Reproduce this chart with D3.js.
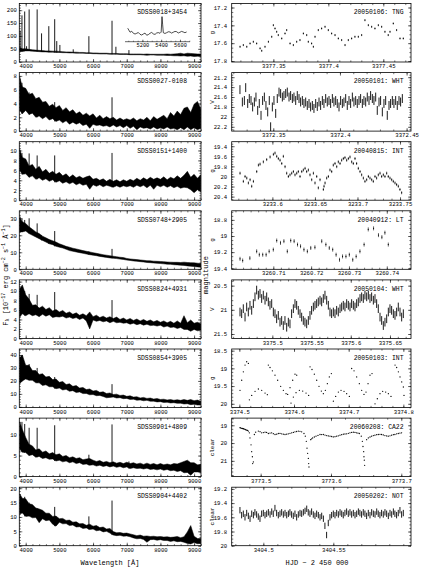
<!DOCTYPE html>
<html><head><meta charset="utf-8">
<script src="https://cdn.jsdelivr.net/npm/d3@7"></script>
<style>body{margin:0;background:#fff;}</style>
</head><body>
<svg id="c" width="421" height="569" xmlns="http://www.w3.org/2000/svg"></svg>
<script>
// ---------------- DATA ----------------
const wavelength = [3825,3900,4000,4100,4200,4300,4400,4500,4600,4700,4800,4900,5000,5100,5200,5300,5400,5500,5600,5700,5800,5900,6000,6100,6200,6300,6400,6500,6600,6700,6800,6900,7000,7100,7200,7300,7400,7500,7600,7700,7800,7900,8000,8100,8200,8300,8400,8500,8600,8700,8800,8900,9000,9100,9200];
const spectrumNames = ["SDSS0018+3454","SDSS0027-0108","SDSS0151+1400","SDSS0748+2905","SDSS0824+4931","SDSS0854+3905","SDSS0901+4809","SDSS0904+4402"];

const fluxLow1 = [40,40,42,42,41,40,39,38,38,37,37,36,36,35,35,34,34,33,33,33,32,32,31,31,30,30,30,29,29,29,28,28,28,27,27,27,27,26,25,26,26,25,25,25,24,24,23,23,22,23,21,22,20,21,20];
const fluxHigh1 = [55,50,50,48,46,45,44,43,42,42,41,41,40,39,38,38,37,37,36,36,35,35,34,34,33,33,33,32,32,32,31,31,31,30,30,30,30,29,30,29,29,29,29,29,30,29,30,31,33,30,33,32,31,30,30];
const lines1 = [[3835,120],[3889,180],[3970,195],[4026,60],[4102,203],[4340,203],[4471,110],[4686,138],[4861,165],[4922,80],[5015,65],[5411,48],[5876,99],[6563,159],[6678,58],[7065,45]];

const fluxLow2 = [3.0,2.5,3.0,2.4,2.6,2.0,2.2,1.8,2.1,1.6,1.8,1.4,1.6,1.2,1.5,1.0,1.3,1.0,1.2,0.8,1.0,0.4,1.0,0.8,0.9,0.7,0.8,0.6,0.9,0.6,0.8,0.5,0.8,0.4,0.7,0.2,0.6,0.4,0.5,0.3,0.6,0.3,0.5,0.3,0.6,0.3,0.4,0.2,0.5,0.2,0.6,0.2,0.5,0.2,0.4];
const fluxHigh2 = [7.8,6.4,6.2,5.3,5.5,4.7,4.9,4.2,4.3,3.6,3.9,3.4,3.7,3.0,3.4,2.8,3.1,2.5,2.8,2.3,2.6,2.2,2.5,1.9,2.3,1.8,2.1,1.8,2.0,1.6,1.9,1.6,1.8,1.6,1.9,1.5,1.8,1.6,2.0,1.5,2.1,1.7,2.0,2.3,1.8,2.7,2.2,2.9,2.4,3.3,3.5,2.7,3.9,4.3,3.2];
const lines2 = [[3889,7.0],[4102,5.6],[4340,4.8],[4861,4.2],[6563,4.9]];

const fluxLow3 = [6.0,5.2,5.3,4.6,4.9,4.2,4.5,4.0,4.3,3.8,4.1,3.6,3.9,3.4,3.7,3.3,3.6,3.1,3.4,3.0,3.2,2.2,3.1,2.8,3.1,2.7,3.0,2.8,2.6,2.9,2.6,2.9,2.7,2.9,2.6,3.0,2.7,3.0,2.5,3.0,2.2,3.0,2.7,3.0,2.6,2.9,2.5,2.8,2.4,2.6,2.5,2.1,1.5,2.1,1.7];
const fluxHigh3 = [10.2,8.6,8.3,6.9,7.2,6.2,6.8,5.7,6.2,5.4,5.8,5.2,5.6,4.9,5.3,4.6,5.1,4.5,4.8,4.4,4.7,4.9,4.2,4.4,4.0,4.3,3.8,4.2,3.8,4.1,3.7,4.1,3.8,4.2,3.9,4.4,4.0,4.5,4.1,4.6,4.2,4.5,4.2,4.7,4.1,4.6,4.3,4.9,4.4,5.0,5.8,4.6,5.2,4.4,5.1];
const lines3 = [[3889,9.5],[4102,9.4],[4340,9.0],[4861,9.0],[6563,9.5]];

const fluxLow4 = [22,22,22.5,21,20,19,18,17,16,15,14.5,13.5,13,12.5,11.8,11,10.6,10.2,9.8,9.4,9,8.6,8.3,8,7.6,7.3,7,6.7,6.5,6.3,6,5.8,5.4,5.2,4.9,4.7,4.5,4.3,4.0,3.9,3.7,3.5,3.4,3.2,3.0,2.9,2.7,2.6,2.4,2.3,2.0,1.8,1.6,1.4,1.2];
const fluxHigh4 = [30,28,27,25,23.5,22,21,19.5,18.5,17.5,16.8,16,15,14.3,13.5,13,12.4,12,11.5,11,10.6,10.2,9.8,9.4,9,8.6,8.3,8,7.7,7.4,7.1,6.9,6.4,6.1,5.9,5.7,5.5,5.3,5.1,5.0,4.8,4.7,4.6,4.5,4.3,4.2,4.1,4.1,4.0,4.2,4.0,3.9,3.8,3.6,3.4];
const lines4 = [[3835,31],[3889,30],[3970,29],[4102,30],[4340,27],[4471,20],[4686,17.5],[4861,22.5],[5876,10.5],[6563,12]];

const fluxLow5 = [4.5,5.2,4.8,5.2,4.8,5.0,4.6,5.1,4.7,5.0,4.4,4.6,4.5,4.7,4.3,4.5,4.2,4.4,4.0,4.3,3.7,2.0,3.9,3.6,3.8,3.5,3.7,3.3,3.6,3.3,3.4,3.2,3.3,3.0,3.2,2.9,3.1,2.8,3.0,2.7,2.8,2.6,2.8,2.4,2.6,2.3,2.4,2.1,2.3,1.9,1.9,1.5,1.9,1.6,1.7];
const fluxHigh5 = [10.5,11.3,9.2,8.3,7.0,7.1,6.4,6.8,6.1,6.5,5.8,6.1,5.6,5.9,5.3,5.6,5.1,5.4,4.9,5.2,4.8,5.6,4.6,4.9,4.4,4.7,4.3,4.6,4.2,4.5,4.0,4.3,3.9,4.2,3.8,4.1,3.7,4.0,3.6,3.9,3.5,3.8,3.4,3.7,3.3,3.6,3.2,3.7,3.2,4.8,3.3,3.9,3.2,3.4,3.1];
const lines5 = [[3970,10],[4102,9.4],[4340,9.2],[4861,9.8],[6563,8.1]];

const fluxLow6 = [18,20,21.5,20.5,20.5,18.5,18.5,16.5,17,15.5,15.5,14,14.5,13,13.5,12,12.5,11,11.5,10.2,10.3,9.3,9.5,8.6,8.8,8,7.0,7.3,7.6,6.8,7.1,6.3,6.5,5.7,5.9,5.1,5.3,4.7,5.0,4.3,4.4,3.8,4.0,3.4,3.5,3.0,3.2,2.7,2.8,2.2,2.4,1.7,2.0,1.4,1.5];
const fluxHigh6 = [38,40,32,32,28,28,25,25.5,23,23.5,21,21.5,19,19.5,17.2,17.8,15.8,16.4,14.5,15,13.3,13.8,12.2,12.7,11.2,11.6,10.3,10.7,9.5,9.8,8.8,9.1,8.1,8.5,7.5,7.8,6.9,7.3,6.5,6.8,6.0,6.4,5.7,5.9,5.3,5.6,5.1,5.5,5.0,5.6,5.0,5.6,4.8,5.2,4.3];
const lines6 = [[3889,40],[4102,33],[4340,30],[4861,23],[6563,17.5]];

const fluxLow7 = [6.5,5.8,5.7,5.0,5.2,4.6,4.8,4.3,4.5,4.1,4.2,3.7,3.9,3.5,3.7,3.3,3.5,3.1,3.3,2.9,3.0,2.7,2.8,2.5,2.7,2.4,2.6,2.3,2.5,2.2,2.4,2.1,2.3,1.9,2.1,1.9,2.0,1.8,2.0,1.7,1.8,1.6,1.8,1.5,1.7,1.4,1.5,1.2,1.4,0.9,1.0,0.3,1.1,1.1,1.0];
const fluxHigh7 = [13,11.2,9.3,7.7,7.3,6.3,6.6,5.8,6.1,5.4,5.7,5.2,5.4,4.8,5.0,4.5,4.7,4.3,4.5,4.0,4.2,4.3,3.9,3.6,3.8,3.4,3.6,3.3,3.5,3.2,3.4,3.1,3.4,3.1,3.3,3.0,3.2,2.9,3.2,2.9,3.1,2.8,3.1,2.8,3.0,2.8,3.1,3.0,3.3,3.6,3.9,3.3,3.3,2.8,2.9];
const lines7 = [[3889,13],[3970,12.5],[4102,11.6],[4340,11.6],[4861,12.2],[5876,5.2],[6563,12.4],[7065,3.6]];

const fluxLow8 = [11,11.4,10.2,10.3,9.7,9.8,8.0,9.4,8.7,8.9,7.5,6.8,8.2,7.6,7.7,7.0,7.2,6.5,6.6,6.0,6.2,5.6,5.8,5.2,5.4,4.8,5.0,4.4,3.7,3.5,3.6,3.3,3.4,3.1,2.7,2.4,2.5,2.2,1.2,2.1,2.2,1.9,2.1,1.8,1.8,1.5,1.7,1.4,1.5,1.2,0.8,0.6,1.1,0.7,0.8];
const fluxHigh8 = [18,16.5,16.3,14.6,14.3,13.1,12.8,12.3,11.3,11.3,10.2,10.3,9.4,9.5,8.8,8.9,8.2,8.3,7.6,7.7,7.1,7.5,6.8,7.0,6.3,6.5,5.8,6.0,4.9,4.5,4.6,4.3,4.4,4.1,3.8,3.5,3.7,3.3,3.4,3.2,3.3,3.1,3.2,3.0,3.1,2.9,3.0,3.2,2.8,3.1,4.8,7.0,3.3,2.5,2.5];
const lines8 = [[3970,17],[4102,15],[4340,13],[4861,13.5],[5876,10.2],[6563,15.7]];

const waveRange = [3810, 9205];
const fluxRanges = [[-1.2,226],[0,8.48],[0,11.76],[0,34.4],[0,12.36],[-0.5,44.6],[0,13.9],[0,20.35]];
const fluxTicks = [[0,50,100,150,200],[0,2,4,6,8],[0,2,4,6,8,10],[0,10,20,30],[0,2,4,6,8,10,12],[0,10,20,30,40],[0,5,10],[0,5,10,15,20]];
const fluxMinorStep = [10,0.5,0.5,2,0.5,2,1,1];
const waveTicks = [4000,5000,6000,7000,8000,9000];

const insetWave = [5044,5069,5086,5104,5122,5140,5157,5175,5193,5211,5228,5246,5264,5281,5299,5317,5335,5352,5370,5388,5400,5409,5416,5423,5440,5458,5476,5494,5511,5529,5547,5565,5582,5600,5617,5635,5653,5671];
const insetFlux = [40.4,36.1,37.2,35.0,34.2,35.0,35.8,33.9,33.1,34.3,35.2,32.9,33.6,35.0,35.9,34.3,33.8,35.3,35.7,35.0,36.2,52.8,44.0,35.6,34.8,35.6,36.6,36.4,35.2,36.1,37.0,36.7,35.3,36.1,37.0,36.4,35.6,36.4];
const insetTicks = [5200,5400,5600];

const lcLabels = ["20050106: TNG","20050101: WHT","20040815: INT","20040912: LT","20050104: WHT","20050103: INT","20060208: CA22","20050202: NOT"];
const lcBands = ["g","V","g","g","V","g","clear","clear"];

const hjd1 = [3377.3197,3377.3227,3377.3258,3377.3288,3377.3318,3377.3348,3377.3379,3377.3394,3377.3424,3377.3455,3377.3485,3377.3500,3377.3515,3377.3530,3377.3545,3377.3576,3377.3606,3377.3621,3377.3652,3377.3682,3377.3712,3377.3742,3377.3773,3377.3803,3377.3818,3377.3848,3377.3864,3377.3879,3377.3909,3377.3939,3377.3970,3377.4000,3377.4030,3377.4061,3377.4091,3377.4121,3377.4152,3377.4182,3377.4212,3377.4242,3377.4273,3377.4303,3377.4333,3377.4364,3377.4394,3377.4424,3377.4455,3377.4485,3377.4515,3377.4545,3377.4561,3377.4591,3377.4621,3377.4652,3377.4682];
const mag1 = [17.640,17.621,17.640,17.603,17.584,17.603,17.658,17.685,17.640,17.584,17.528,17.398,17.435,17.472,17.509,17.547,17.491,17.453,17.603,17.621,17.584,17.565,17.491,17.509,17.584,17.603,17.640,17.528,17.453,17.435,17.416,17.453,17.491,17.509,17.547,17.565,17.621,17.565,17.547,17.528,17.528,17.509,17.342,17.398,17.416,17.435,17.398,17.416,17.472,17.509,17.472,17.379,17.453,17.547,17.547];

const hjd2 = [3372.3250,3372.3268,3372.3283,3372.3293,3372.3308,3372.3320,3372.3333,3372.3345,3372.3358,3372.3370,3372.3383,3372.3395,3372.3408,3372.3420,3372.3433,3372.3445,3372.3458,3372.3470,3372.3480,
3372.3493,3372.3505,3372.3518,3372.3530,3372.3543,3372.3555,3372.3568,3372.3580,3372.3593,3372.3605,
3372.3618,3372.3630,3372.3643,3372.3655,3372.3668,3372.3680,3372.3693,3372.3705,3372.3718,3372.3730,
3372.3743,3372.3755,3372.3768,3372.3780,3372.3793,3372.3805,3372.3818,3372.3830,3372.3843,3372.3855,
3372.3868,3372.3880,3372.3893,3372.3905,3372.3918,3372.3930,3372.3943,3372.3955,3372.3968,3372.3980,
3372.3993,3372.4005,3372.4018,3372.4030,3372.4043,3372.4055,3372.4068,3372.4080,3372.4093,3372.4105,
3372.4118,3372.4130,3372.4143,3372.4155,3372.4168,3372.4180,3372.4193,3372.4205,3372.4218,3372.4230,
3372.4243,3372.4255,3372.4268,3372.4280,3372.4293,3372.4305,3372.4318,3372.4330,3372.4343,3372.4355,
3372.4368,3372.4380,3372.4393,3372.4405,3372.4418,3372.4430,3372.4443,3372.4455,3372.4468];
const mag2 = [21.45,21.70,21.67,21.41,21.73,21.63,21.67,21.80,21.70,21.60,21.87,21.73,21.97,21.67,21.60,21.77,21.90,21.67,22.20,
21.80,21.67,21.93,21.63,21.50,21.53,21.60,21.57,21.53,21.50,
21.60,21.57,21.63,21.60,21.67,21.57,21.63,21.70,21.67,21.73,
21.70,21.77,21.73,21.80,21.77,21.83,21.73,21.79,21.70,21.77,
21.67,21.73,21.63,21.70,21.67,21.73,21.63,21.70,21.67,21.73,
21.80,21.67,21.73,21.70,21.63,21.77,21.67,21.73,21.60,21.70,
21.67,21.73,21.67,21.63,21.73,21.67,21.70,21.60,21.67,21.57,
21.63,21.67,21.60,21.87,21.70,21.67,21.90,21.73,21.67,21.97,
21.77,21.73,21.67,21.73,21.67,21.77,21.67,21.70,21.63];

const hjd3 = [3233.5620,3233.5659,3233.5679,3233.5699,3233.5718,3233.5738,3233.5757,3233.5777,3233.5816,3233.5836,3233.5855,3233.5894,3233.5933,3233.5973,3233.6012,3233.6031,3233.6051,3233.6070,3233.6090,3233.6110,3233.6129,3233.6149,3233.6168,3233.6188,3233.6207,3233.6227,3233.6247,3233.6266,3233.6286,3233.6305,3233.6325,3233.6345,3233.6364,3233.6384,3233.6403,3233.6423,3233.6442,3233.6462,3233.6482,3233.6501,3233.6521,3233.6540,3233.6560,3233.6599,3233.6607,3233.6619,3233.6638,3233.6658,3233.6677,3233.6697,3233.6716,3233.6736,3233.6756,3233.6775,3233.6795,3233.6814,3233.6834,3233.6853,3233.6873,3233.6893,3233.6912,3233.6932,3233.6951,3233.6971,3233.6990,3233.7010,3233.7030,3233.7049,3233.7069,3233.7088,3233.7108,3233.7128,3233.7147,3233.7167,3233.7186,3233.7206,3233.7225,3233.7245,3233.7265,3233.7284,3233.7304,3233.7323,3233.7343,3233.7362,3233.7382,3233.7402,3233.7421,3233.7441,3233.7460,3233.7480,3233.7499,3233.7519];
const mag3 = [19.935,20.097,20.0,20.032,20.129,20.065,20.194,20.097,19.903,19.774,19.755,19.71,19.665,19.613,19.561,19.535,19.6,19.645,19.677,19.742,19.6,19.806,19.935,20.0,19.968,19.935,19.903,19.968,19.935,19.903,20.0,19.903,19.871,19.839,19.903,19.871,19.968,20.065,19.935,20.129,20.0,20.226,20.065,20.258,20.194,20.129,20.032,20.0,19.871,19.903,19.774,19.742,19.806,19.71,19.742,19.677,19.645,19.626,19.677,19.645,19.613,19.71,19.742,19.645,19.742,19.839,19.903,19.968,20.032,20.097,20.065,20.0,20.032,20.065,20.097,20.0,20.032,19.968,19.935,20.0,19.968,20.0,19.935,20.0,20.032,20.065,20.097,20.129,20.161,20.194,20.258,20.323];

const hjd4 = [3260.7012,3260.7019,3260.7038,3260.7056,3260.7063,3260.7072,3260.7081,3260.7089,3260.7100,3260.7109,3260.7119,3260.7128,3260.7137,3260.7146,3260.7155,3260.7164,3260.7172,3260.7181,3260.7190,3260.7199,3260.7210,3260.7228,3260.7239,3260.7248,3260.7257,3260.7266,3260.7275,3260.7283,3260.7292,3260.7301,3260.7310,3260.7319,3260.7329,3260.7340,3260.7351,3260.7365,3260.7378,3260.7387,3260.7395,3260.7404];
const mag4 = [19.283,19.304,19.274,19.19,19.232,19.232,19.232,19.19,19.169,19.056,19.085,19.064,19.19,19.056,19.064,19.106,19.127,19.169,19.19,19.148,19.14,19.064,19.106,19.148,19.169,19.232,19.295,19.253,19.253,19.232,19.295,19.253,19.19,19.106,18.918,18.905,18.989,19.014,18.959,19.106];

const hjd5 = [3375.4588,3375.4609,3375.4630,3375.4652,3375.4673,3375.4694,3375.4715,3375.4737,3375.4758,3375.4779,3375.4800,3375.4822,3375.4843,3375.4864,3375.4885,3375.4907,3375.4928,3375.4949,3375.4970,3375.4992,
3375.5013,3375.5034,3375.5055,3375.5076,3375.5098,3375.5119,3375.5140,3375.5161,3375.5183,3375.5204,
3375.5225,3375.5246,3375.5268,3375.5289,3375.5310,3375.5331,3375.5353,3375.5374,3375.5395,3375.5416,
3375.5438,3375.5459,3375.5480,3375.5501,3375.5523,3375.5544,3375.5565,3375.5586,3375.5608,3375.5629,
3375.5650,3375.5671,3375.5693,3375.5714,3375.5735,3375.5756,3375.5778,3375.5799,3375.5820,3375.5841,
3375.5863,3375.5884,3375.5905,3375.5926,3375.5948,3375.5969,3375.5990,3375.6011,3375.6033,3375.6054,
3375.6075,3375.6096,3375.6118,3375.6139,3375.6160,3375.6181,3375.6203,3375.6224,3375.6245,3375.6266,
3375.6288,3375.6309,3375.6330,3375.6351,3375.6373,3375.6394,3375.6415,3375.6436,3375.6458,3375.6479,
3375.6500,3375.6521,3375.6543,3375.6564,3375.6585,3375.6606,3375.6628,3375.6649,3375.6670];
const mag5 = [21.045,21.08,20.976,21.15,20.941,21.045,20.906,21.01,20.871,20.731,20.591,20.696,20.661,20.766,20.696,20.801,20.731,20.836,20.906,20.871,
21.045,21.08,21.185,21.115,21.255,21.22,21.325,21.22,21.36,21.255,
21.29,21.08,20.976,20.871,20.906,21.01,21.08,21.15,21.22,21.255,
21.29,21.22,21.115,21.01,20.941,20.906,20.871,20.836,20.801,20.836,
20.766,20.696,20.801,20.906,21.045,21.08,21.045,21.08,21.01,21.045,
20.976,20.941,20.906,20.941,20.871,20.906,20.941,20.871,20.906,20.941,
20.871,20.836,20.766,20.731,20.766,20.696,20.731,20.696,20.766,20.731,
20.801,20.766,20.871,20.976,21.15,21.22,21.325,21.255,21.185,21.045,
20.976,21.01,21.08,21.115,21.045,20.941,21.045,21.15,21.08];

const hjd6 = [3374.5012,3374.5043,3374.5073,3374.5104,3374.5134,3374.5165,
3374.5183,3374.5226,3374.5287,3374.5348,3374.5409,3374.5470,3374.5512,
3374.5530,3374.5561,3374.5604,3374.5652,3374.5701,3374.5756,3374.5805,3374.5854,3374.5884,3374.5927,3374.5976,3374.6018,3374.6049,
3374.5945,3374.5988,3374.6037,3374.6098,3374.6159,3374.6220,3374.6268,
3374.6293,3374.6329,3374.6372,3374.6415,3374.6457,3374.6500,3374.6537,3374.6573,3374.6610,3374.6646,3374.6683,
3374.6720,3374.6762,3374.6811,3374.6860,3374.6915,3374.6963,3374.7012,
3374.7055,3374.7098,3374.7146,3374.7195,3374.7238,3374.7280,3374.7317,3374.7354,3374.7390,3374.7427,
3374.7482,3374.7524,3374.7573,3374.7622,3374.7677,3374.7726,3374.7774,
3374.7848,3374.7878,3374.7909,3374.7939,3374.7970,3374.8000,3374.8012];
const mag6 = [19.621,19.336,19.098,18.908,18.813,18.861,
19.887,19.763,19.649,19.583,19.621,19.697,19.744,
18.908,18.975,19.070,19.193,19.336,19.507,19.621,19.716,19.735,19.545,19.336,19.165,19.193,
19.981,19.811,19.687,19.621,19.640,19.697,19.763,
18.956,19.032,19.165,19.336,19.507,19.640,19.716,19.621,19.431,19.241,19.146,
19.925,19.792,19.668,19.621,19.649,19.716,19.792,
19.003,19.070,19.241,19.431,19.621,19.735,19.668,19.431,19.193,19.146,
20.0,19.858,19.716,19.649,19.668,19.716,19.792,
18.908,18.975,19.098,19.241,19.383,19.526,19.763];

const hjd7 = [3773.4706,3773.4730,3773.4754,3773.4777,3773.4801,3773.4825,3773.4839,3773.4848,3773.4863,3773.4872,3773.4882,3773.4886,3773.4896,
3773.4910,3773.4929,3773.4967,3773.5014,3773.5062,3773.5109,3773.5156,3773.5204,3773.5251,3773.5299,3773.5346,3773.5393,3773.5441,3773.5488,3773.5536,3773.5583,3773.5616,
3773.5635,3773.5649,3773.5659,3773.5668,3773.5678,3773.5683,3773.5687,
3773.5711,3773.5739,3773.5787,3773.5844,3773.5891,3773.5939,3773.5986,3773.6033,3773.6081,3773.6128,3773.6176,3773.6223,3773.6270,3773.6318,3773.6365,3773.6403,
3773.6431,3773.6446,3773.6455,3773.6465,3773.6469,3773.6474,3773.6479,
3773.6507,3773.6531,3773.6578,3773.6625,3773.6673,3773.6720,3773.6767,3773.6815,3773.6862,3773.6909,3773.6957,3773.7004,
3773.4716,3773.4740,3773.4763,3773.4787,3773.4811,
3773.4991,3773.5038,3773.5085,3773.5133,3773.5180,3773.5228,3773.5275,3773.5322,3773.5370,3773.5417,3773.5465,3773.5512,3773.5559,
3773.5725,3773.5763,3773.5815,3773.5867,3773.5915,3773.5962,3773.6010,3773.6057,3773.6104,3773.6152,3773.6199,3773.6247,3773.6294,3773.6341,3773.6384,
3773.6555,3773.6602,3773.6650,3773.6697,3773.6744,3773.6792,3773.6839,3773.6887,3773.6934,3773.6981];
const mag7 = [19.135,19.173,19.192,19.231,19.269,19.327,19.423,19.712,20.096,20.481,20.769,21.154,21.058,
19.519,19.385,19.327,19.423,19.385,19.462,19.423,19.519,19.462,19.481,19.519,19.481,19.423,19.365,19.327,19.365,19.462,
19.615,19.904,20.288,20.577,20.865,21.154,21.346,
19.808,19.712,19.615,19.519,19.519,19.577,19.615,19.654,19.615,19.558,19.5,19.481,19.423,19.385,19.423,19.462,
19.615,19.904,20.192,20.481,20.769,20.962,21.25,
19.808,19.712,19.615,19.558,19.519,19.519,19.577,19.615,19.558,19.519,19.462,19.423,
19.15,19.18,19.21,19.25,19.29,
19.36,19.41,19.40,19.44,19.47,19.50,19.46,19.50,19.50,19.45,19.40,19.35,19.34,
19.76,19.66,19.57,19.52,19.55,19.60,19.63,19.64,19.59,19.53,19.49,19.45,19.40,19.40,19.44,
19.66,19.58,19.53,19.51,19.54,19.60,19.59,19.53,19.48,19.44];

const hjd8 = [3404.4833,3404.4845,3404.4857,3404.4869,3404.4881,3404.4893,3404.4905,3404.4917,3404.4929,3404.4940,
3404.4952,3404.4964,3404.4976,3404.4988,3404.5000,3404.5012,3404.5024,3404.5036,3404.5048,3404.5060,
3404.5071,3404.5083,3404.5095,3404.5107,3404.5119,3404.5131,3404.5143,3404.5155,3404.5167,3404.5179,
3404.5190,3404.5202,3404.5214,3404.5226,3404.5238,3404.5250,3404.5262,3404.5274,3404.5286,3404.5298,
3404.5310,3404.5321,3404.5333,3404.5345,3404.5357,3404.5369,3404.5381,3404.5393,3404.5405,3404.5417,
3404.5429,3404.5440,3404.5452,3404.5464,3404.5476,3404.5488,3404.5500,3404.5512,3404.5524,3404.5536,
3404.5548,3404.5560,3404.5571,3404.5583,3404.5595,3404.5607,3404.5619,3404.5631,3404.5643,3404.5655,
3404.5667,3404.5679,3404.5690,3404.5702,3404.5714,3404.5726,3404.5738,3404.5750,3404.5762,3404.5774,
3404.5786,3404.5798,3404.5810,3404.5821,3404.5833,3404.5845,3404.5857,3404.5869,3404.5881,3404.5893,
3404.5905,3404.5917,3404.5929,3404.5940,3404.5952,3404.5964,3404.5976,3404.5988,3404.6000];
const mag8 = [19.50,19.57,19.55,19.60,19.54,19.58,19.62,19.55,19.57,19.53,
19.56,19.59,19.62,19.55,19.54,19.57,19.55,19.53,19.56,19.52,
19.55,19.47,19.54,19.57,19.55,19.53,19.56,19.54,19.57,19.55,
19.53,19.56,19.58,19.55,19.60,19.56,19.54,19.55,19.53,19.51,
19.48,19.53,19.55,19.52,19.56,19.58,19.55,19.57,19.60,19.58,
19.62,19.72,19.85,19.68,19.60,19.57,19.55,19.57,19.54,19.56,
19.53,19.55,19.57,19.54,19.52,19.55,19.53,19.56,19.54,19.57,
19.55,19.52,19.54,19.56,19.53,19.55,19.58,19.54,19.57,19.53,
19.55,19.56,19.52,19.55,19.57,19.54,19.56,19.53,19.55,19.58,
19.54,19.56,19.52,19.55,19.57,19.54,19.50,19.56,19.54];

const magErr = [0.012,0.09,0.03,0.025,0.09,0.008,0.01,0.045];
const hjdRanges = [[3377.3121,3377.4752],[3372.3188,3372.4533],[3233.5522,3233.7629],[3260.6990,3260.7464],[3375.4482,3375.6768],[3374.486,3374.814],[3773.4588,3773.7138],[3404.4774,3404.6055]];
const magRanges = [[17.155,17.811],[21.107,22.287],[19.31,20.471],[18.687,19.413],[20.381,21.591],[18.453,20.105],[18.596,21.885],[19.176,20.0]];
const hjdTicks = [[3377.35,3377.4,3377.45],[3372.35,3372.4,3372.45],[3233.6,3233.65,3233.7,3233.75],[3260.71,3260.72,3260.73,3260.74],[3375.5,3375.55,3375.6,3375.65],[3374.5,3374.6,3374.7,3374.8],[3773.5,3773.6,3773.7],[3404.5,3404.55]];
const hjdMinorStep = [0.01,0.01,0.01,0.002,0.01,0.02,0.02,0.01];
const magTicks = [[17.2,17.4,17.6,17.8],[21.2,21.4,21.6,21.8,22,22.2],[19.4,19.6,19.8,20,20.2,20.4],[18.8,19,19.2,19.4],[20.5,21,21.5],[18.5,19,19.5,20],[19,20,21],[19.2,19.4,19.6,19.8,20]];
const magMinorStep = [0.05,0.05,0.05,0.05,0.1,0.1,0.2,0.05];
const lcStyle = ["bar","bar","bar","bar","bar","dot","dot","bar"];

// ---------------- DRAWING ----------------
const F = '"Liberation Mono","DejaVu Sans Mono",monospace';
const svg = d3.select('#c');
svg.append('rect').attr('width',421).attr('height',569).attr('fill','#fff');
const top0 = 3.5, rowStep = 69.1, panelH = 58.5;
const LX = [19.3, 201], RX = [231.7, 411];
const fmtNum = d => String(+(+d).toFixed(4));

function minorValues(domain, st){
  const a = Math.min(...domain), b = Math.max(...domain), out = [];
  for (let k = Math.ceil(a/st - 1e-6); k <= Math.floor(b/st + 1e-6); k++) out.push(+(k*st).toFixed(6));
  return out;
}
function styleAxis(g){
  g.select('.domain').remove();
  g.attr('font-family', F).attr('font-size', 5.6);
  g.selectAll('line').attr('stroke','#000').attr('stroke-width',0.55);
  g.selectAll('text').attr('fill','#000');
}
function drawAxes(g, x, y, xMaj, xSt, yMaj, ySt, padY){
  const [xl, xr] = x.range();
  const yb = Math.max(...y.range()), yt = Math.min(...y.range());
  const xMin = minorValues(x.domain(), xSt), yMin = minorValues(y.domain(), ySt);
  const MJ = 3, MN = 1.6;
  g.append('g').attr('transform',`translate(0,${yb})`).call(d3.axisBottom(x).tickValues(xMaj).tickSize(-MJ).tickPadding(2.2).tickFormat(fmtNum)).call(styleAxis);
  g.append('g').attr('transform',`translate(0,${yb})`).call(d3.axisBottom(x).tickValues(xMin).tickSize(-MN).tickFormat('')).call(styleAxis);
  g.append('g').attr('transform',`translate(0,${yt})`).call(d3.axisTop(x).tickValues(xMaj).tickSize(-MJ).tickFormat('')).call(styleAxis);
  g.append('g').attr('transform',`translate(0,${yt})`).call(d3.axisTop(x).tickValues(xMin).tickSize(-MN).tickFormat('')).call(styleAxis);
  g.append('g').attr('transform',`translate(${xl},0)`).call(d3.axisLeft(y).tickValues(yMaj).tickSize(-MJ).tickPadding(padY).tickFormat(fmtNum)).call(styleAxis);
  g.append('g').attr('transform',`translate(${xl},0)`).call(d3.axisLeft(y).tickValues(yMin).tickSize(-MN).tickFormat('')).call(styleAxis);
  g.append('g').attr('transform',`translate(${xr},0)`).call(d3.axisRight(y).tickValues(yMaj).tickSize(-MJ).tickFormat('')).call(styleAxis);
  g.append('g').attr('transform',`translate(${xr},0)`).call(d3.axisRight(y).tickValues(yMin).tickSize(-MN).tickFormat('')).call(styleAxis);
  g.append('rect').attr('x',xl).attr('y',yt).attr('width',xr-xl).attr('height',yb-yt)
    .attr('fill','none').attr('stroke','#000').attr('stroke-width',0.8);
}

const spectra = [
  {lo:fluxLow1, hi:fluxHigh1, lines:lines1},{lo:fluxLow2, hi:fluxHigh2, lines:lines2},
  {lo:fluxLow3, hi:fluxHigh3, lines:lines3},{lo:fluxLow4, hi:fluxHigh4, lines:lines4},
  {lo:fluxLow5, hi:fluxHigh5, lines:lines5},{lo:fluxLow6, hi:fluxHigh6, lines:lines6},
  {lo:fluxLow7, hi:fluxHigh7, lines:lines7},{lo:fluxLow8, hi:fluxHigh8, lines:lines8}];
const curves = [[hjd1,mag1],[hjd2,mag2],[hjd3,mag3],[hjd4,mag4],[hjd5,mag5],[hjd6,mag6],[hjd7,mag7],[hjd8,mag8]];

const defs = svg.append('defs');

spectra.forEach((s, i) => {
  const top = top0 + i*rowStep, bottom = top + panelH;
  const x = d3.scaleLinear().domain(waveRange).range(LX);
  const y = d3.scaleLinear().domain(fluxRanges[i]).range([bottom, top]);
  defs.append('clipPath').attr('id','cl'+i).append('rect').attr('x',LX[0]).attr('y',top).attr('width',LX[1]-LX[0]).attr('height',panelH);
  const g = svg.append('g');
  const pg = g.append('g').attr('clip-path',`url(#cl${i})`);
  const area = d3.area().x((d,j)=>x(wavelength[j])).y0((d,j)=>y(s.lo[j])).y1((d,j)=>y(s.hi[j]));
  pg.append('path').attr('d', area(s.lo)).attr('fill','#000').attr('stroke','#000').attr('stroke-width',0.5).attr('stroke-linejoin','round');
  s.lines.forEach(([w,p]) => {
    const j = d3.minIndex(wavelength, v => Math.abs(v - w));
    pg.append('line').attr('x1',x(w)).attr('x2',x(w)).attr('y1',y(s.lo[j])).attr('y2',y(p))
      .attr('stroke','#000').attr('stroke-width',0.9);
  });
  drawAxes(g, x, y, waveTicks, 200, fluxTicks[i], fluxMinorStep[i], 2.4);
  g.append('text').attr('x',187).attr('y',top+10.8).attr('text-anchor','end')
    .attr('font-family',F).attr('font-size',6.4).text(spectrumNames[i]);

  if (i === 0) {
    const axY = top + 38.2;
    const ix = d3.scaleLinear().domain([5015,5707]).range([125,190]);
    const iy = d3.scaleLinear().domain([26,54]).range([axY, top + 12]);
    const ia = g.append('g').attr('transform',`translate(0,${axY})`)
      .call(d3.axisBottom(ix).tickValues(insetTicks).tickSize(-2).tickPadding(1.6).tickFormat(fmtNum));
    ia.select('.domain').remove();
    ia.attr('font-family',F).attr('font-size',5.3);
    ia.selectAll('line').attr('stroke','#000').attr('stroke-width',0.55);
    const im = g.append('g').attr('transform',`translate(0,${axY})`)
      .call(d3.axisBottom(ix).tickValues(minorValues(ix.domain(),50)).tickSize(-1).tickFormat(''));
    im.select('.domain').remove();
    im.selectAll('line').attr('stroke','#000').attr('stroke-width',0.5);
    g.append('line').attr('x1',125).attr('x2',190).attr('y1',axY).attr('y2',axY).attr('stroke','#000').attr('stroke-width',0.6);
    const il = d3.line().x((d,j)=>ix(insetWave[j])).y(d=>iy(d));
    g.append('path').attr('d', il(insetFlux)).attr('fill','none').attr('stroke','#000').attr('stroke-width',0.7);
  }
});

curves.forEach(([t, m], i) => {
  const top = top0 + i*rowStep, bottom = top + panelH;
  const x = d3.scaleLinear().domain(hjdRanges[i]).range(RX);
  const y = d3.scaleLinear().domain(magRanges[i]).range([top, bottom]);
  defs.append('clipPath').attr('id','cr'+i).append('rect').attr('x',RX[0]).attr('y',top).attr('width',RX[1]-RX[0]).attr('height',panelH);
  const g = svg.append('g');
  const pg = g.append('g').attr('clip-path',`url(#cr${i})`);
  const e = magErr[i];
  const dense = (i === 1 || i === 4 || i === 7);
  if (lcStyle[i] === 'bar') {
    pg.selectAll('line.eb').data(m).join('line').attr('class','eb')
      .attr('x1',(d,j)=>x(t[j])).attr('x2',(d,j)=>x(t[j]))
      .attr('y1',d=>y(d-e)).attr('y2',d=>y(d+e))
      .attr('stroke','#000').attr('stroke-width', dense ? 0.9 : 0.6);
    if (!dense) {
      pg.selectAll('rect.pt').data(m).join('rect').attr('class','pt')
        .attr('x',(d,j)=>x(t[j])-0.5).attr('y',d=>y(d)-0.5).attr('width',1).attr('height',1).attr('fill','#000');
    }
  } else {
    pg.selectAll('circle').data(m).join('circle')
      .attr('cx',(d,j)=>x(t[j])).attr('cy',d=>y(d)).attr('r',0.65).attr('fill','#000');
  }
  drawAxes(g, x, y, hjdTicks[i], hjdMinorStep[i], magTicks[i], magMinorStep[i], 4.5);
  g.append('text').attr('x',403.5).attr('y',top+10.8).attr('text-anchor','end')
    .attr('font-family',F).attr('font-size',6.4).text(lcLabels[i]);
  g.append('text').attr('transform',`translate(214,${top+panelH/2}) rotate(-90)`).attr('text-anchor','middle')
    .attr('font-family',F).attr('font-size',6).text(lcBands[i]);
});

// axis titles
svg.append('text').attr('x',110).attr('y',565).attr('text-anchor','middle').attr('font-family',F).attr('font-size',7).text('Wavelength [Å]');
svg.append('text').attr('x',317).attr('y',565).attr('text-anchor','middle').attr('font-family',F).attr('font-size',7).text('HJD − 2 450 000');
svg.append('text').attr('transform','translate(207.5,275) rotate(-90)').attr('text-anchor','middle').attr('font-family',F).attr('font-size',7).text('magnitude');
const yt = svg.append('text').attr('transform','translate(7.5,275) rotate(-90)').attr('text-anchor','middle').attr('font-family',F).attr('font-size',7);
yt.append('tspan').text('F');
yt.append('tspan').attr('dy',1.5).attr('font-size',5).text('λ');
yt.append('tspan').attr('dy',-1.5).text(' [10');
yt.append('tspan').attr('dy',-2.5).attr('font-size',5).text('−17');
yt.append('tspan').attr('dy',2.5).text(' erg cm');
yt.append('tspan').attr('dy',-2.5).attr('font-size',5).text('−2');
yt.append('tspan').attr('dy',2.5).text(' s');
yt.append('tspan').attr('dy',-2.5).attr('font-size',5).text('−1');
yt.append('tspan').attr('dy',2.5).text(' Å');
yt.append('tspan').attr('dy',-2.5).attr('font-size',5).text('−1');
yt.append('tspan').attr('dy',2.5).text(']');
</script>
</body></html>
